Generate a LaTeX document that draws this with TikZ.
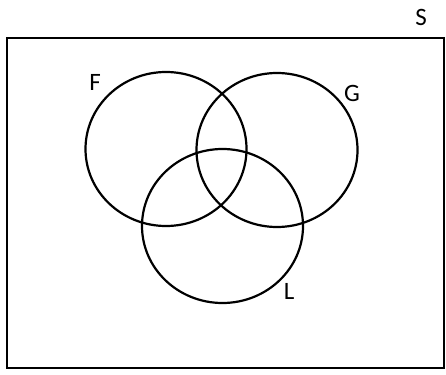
\documentclass[tikz,border=0pt]{standalone}
\usepackage{fontspec}
\setmainfont{Carlito}
\usetikzlibrary{positioning,shapes.geometric}
\tikzset{
  caja/.style={draw, line width=2.2pt, minimum width=437pt, minimum height=330pt, inner sep=0pt},
  conj/.style={draw, ellipse, line width=2.2pt, minimum width=161pt, minimum height=154pt, inner sep=0pt},
  et/.style={font=\fontsize{25}{30}\selectfont, inner sep=0pt},
}
\begin{document}
\begin{tikzpicture}[x=1pt, y=-1pt]
  \useasboundingbox (0,0) rectangle (446,374);
  \node[caja] (univ) at (225.5,203) {};
  \node[conj] (F) at (166,149) {};
  \node[conj] (G) at (277,150) {};
  \node[conj] (L) at (222.5,226) {};
  \node[et] (eS) at (421,17) {S};
  \node[et] (eF) at (95,82) {F};
  \node[et] (eG) at (352,93) {G};
  \node[et] (eL) at (289,291) {L};
\end{tikzpicture}
\end{document}
